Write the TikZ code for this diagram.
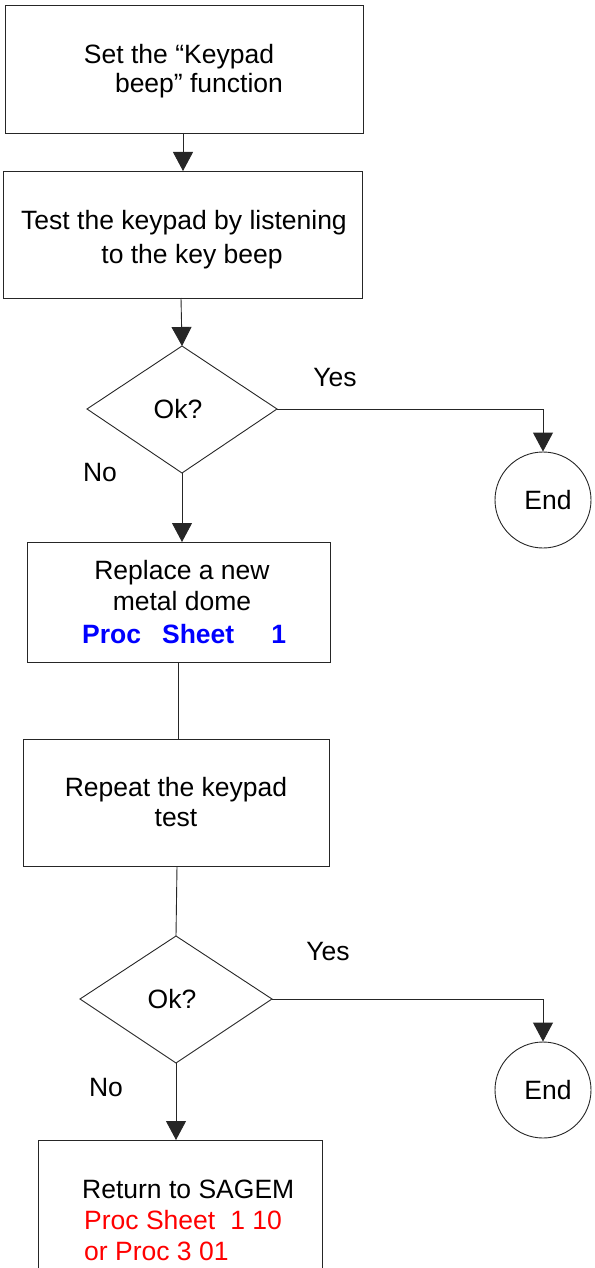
\documentclass[tikz,border=0pt]{standalone}
\usepackage{fontspec}
\setmainfont{Liberation Sans}
\usetikzlibrary{arrows.meta,shapes.geometric}
\definecolor{procblue}{RGB}{0,0,255}
\definecolor{procred}{RGB}{255,0,0}
\begin{document}
\begin{tikzpicture}[x=1pt,y=-1pt,
  font=\fontsize{26.5}{32}\selectfont,
  ln/.style={draw=black!85,line width=0.9pt},
  arr/.style={ln,-{Triangle[width=20pt,length=19pt]}},
  tl/.style={anchor=base,inner sep=0pt},
  tlw/.style={anchor=base west,inner sep=0pt},
  endc/.style={ln,circle,minimum size=96pt,inner sep=0pt}]
\useasboundingbox (0,0) rectangle (594,1268);
% boxes
\draw[ln] (5,5) rectangle (363,133);
\node[tl] (t1a) at (179,64) {Set the “Keypad};
\node[tl] (t1b) at (199,93) {beep” function};
\draw[ln] (3,171) rectangle (362,298);
\node[tl] (t2a) at (184,229) {Test the keypad by listening};
\node[tl] (t2b) at (192,263) {to the key beep};
\draw[ln] (27,542) rectangle (330,662);
\node[tl] (t3a) at (182,579) {Replace a new};
\node[tl] (t3b) at (182,610) {metal dome};
\node[tlw,text=procblue,font=\fontsize{26.5}{32}\selectfont\bfseries] (t3c) at (82,643) {Proc\hspace{21pt}Sheet\hspace{37pt}1};
\draw[ln] (23,739) rectangle (329,866);
\node[tl] (t4a) at (176,796) {Repeat the keypad};
\node[tl] (t4b) at (176,826) {test};
\draw[ln] (38,1140) rectangle (322,1280);
\node[tlw] (t5a) at (82,1198) {Return to SAGEM};
\node[tlw,text=procred] (t5b) at (84,1229) {Proc Sheet\hspace{15pt}1 10};
\node[tlw,text=procred] (t5c) at (84,1260) {or Proc 3 01};
% named coordinates for box edges
\coordinate (b1b) at (183,133);
\coordinate (b2t) at (183,171);
\coordinate (b2b) at (181,298);
\coordinate (b3t) at (182,542);
\coordinate (b3b) at (178,662);
\coordinate (b4t) at (178,739);
\coordinate (b4b) at (177,866);
\coordinate (b5t) at (176,1140);
% diamonds
\draw[ln] (182,346) coordinate (d1t) -- (277,409) coordinate (d1r) -- (182,473) coordinate (d1b) -- (87,409) -- cycle;
\node[tl] (d1) at (178,418) {Ok?};
\draw[ln] (176,936) coordinate (d2t) -- (272,999) coordinate (d2r) -- (176,1063) coordinate (d2b) -- (80,999) -- cycle;
\node[tl] (d2) at (172,1008) {Ok?};
% end circles
\node[endc] (e1) at (543,500) {\hspace*{10pt}End};
\node[endc] (e2) at (543,1090) {\hspace*{10pt}End};
% labels
\node[tl] (y1) at (335,386) {Yes};
\node[tl] (n1) at (100,481) {No};
\node[tl] (y2) at (328,960) {Yes};
\node[tl] (n2) at (106,1096) {No};
% connectors
\draw[arr] (b1b) -- (b2t);
\draw[arr] (b2b) -- (d1t);
\draw[arr] (d1r) -| (e1.north);
\draw[arr] (d1b) -- (b3t);
\draw[ln] (b3b) -- (b4t);
\draw[ln] (b4b) -- (d2t);
\draw[arr] (d2r) -| (e2.north);
\draw[arr] (d2b) -- (b5t);
\end{tikzpicture}
\end{document}
